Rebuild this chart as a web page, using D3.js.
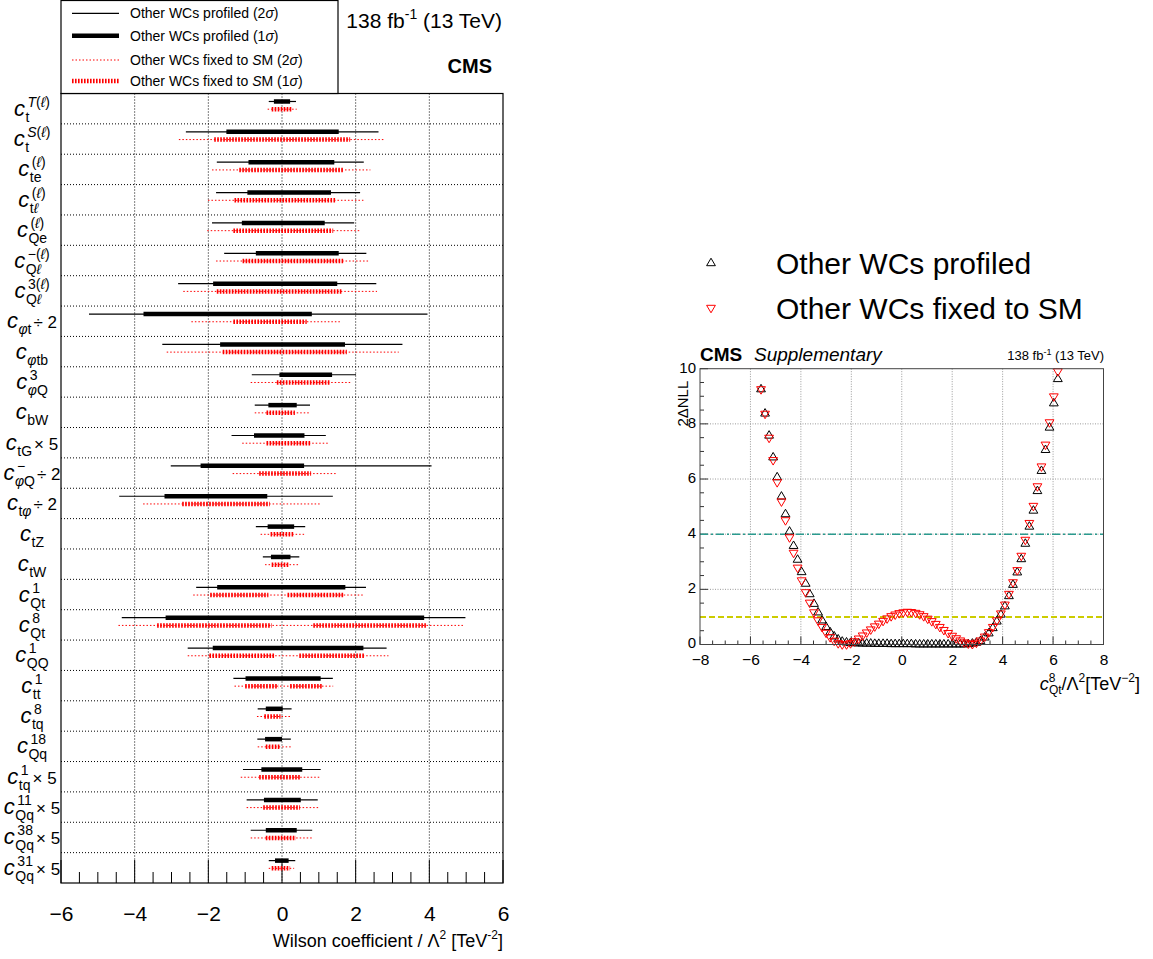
<!DOCTYPE html>
<html><head><meta charset="utf-8">
<script src="https://cdn.jsdelivr.net/npm/d3@7"></script>
<style>
body{margin:0;background:#fff}
svg{display:block}
text{font-family:"Liberation Sans",Arial,Helvetica,sans-serif;fill:#000}
</style>
</head><body>
<svg id="c" width="1153" height="959"></svg>
<script>
// ---------------- DATA ----------------
const labelSub = ["t","t","te","tℓ","Qe","Qℓ","Qℓ","φt","φtb","φQ","bW","tG","φQ","tφ","tZ","tW","Qt","Qt","QQ","tt","tq","Qq","tq","Qq","Qq","Qq"];
const labelSup = ["T(ℓ)","S(ℓ)","(ℓ)","(ℓ)","(ℓ)","−(ℓ)","3(ℓ)","","","3","","","−","","","","1","8","1","1","8","18","1","11","38","31"];
const labelSuffix = ["","","","","","","","÷ 2","","","","× 5","÷ 2","÷ 2","","","","","","","","","× 5","× 5","× 5","× 5"];

const profiled2s = [[-0.36,0.38],[-2.61,2.62],[-1.77,2.22],[-1.79,2.12],[-1.90,1.96],[-1.57,2.29],[-2.82,2.56],[-5.24,3.95],[-3.25,3.27],[-0.82,2.01],[-0.74,0.76],[-1.37,1.19],[-3.02,4.06],[-4.42,1.38],[-0.71,0.63],[-0.52,0.47],[-2.33,2.28],[-4.35,4.98],[-2.56,2.84],[-1.32,1.38],[-0.66,0.26],[-0.67,0.24],[-1.06,1.05],[-0.96,0.97],[-0.85,0.82],[-0.36,0.36]];
const profiled1s = [[-0.22,0.22],[-1.51,1.54],[-0.91,1.42],[-0.94,1.33],[-1.09,1.16],[-0.71,1.54],[-1.87,1.50],[-3.76,0.81],[-1.68,1.71],[-0.07,1.36],[-0.37,0.40],[-0.76,0.61],[-2.21,0.60],[-3.19,-0.40],[-0.39,0.33],[-0.30,0.23],[-1.76,1.72],[-3.16,3.86],[-1.88,2.21],[-0.99,1.05],[-0.44,0.02],[-0.46,0.00],[-0.56,0.55],[-0.49,0.51],[-0.44,0.40],[-0.19,0.18]];
const fixed2s = [[-0.39,0.40],[-2.80,2.77],[-1.90,2.40],[-2.01,2.21],[-2.03,2.10],[-1.79,2.34],[-2.68,2.58],[-2.46,1.57],[-3.13,3.17],[-0.85,1.86],[-0.74,0.74],[-1.08,1.26],[-1.34,1.48],[-3.77,1.03],[-0.58,0.60],[-0.46,0.44],[-2.41,2.21],[-4.44,4.92],[-2.56,2.89],[-1.29,1.39],[-0.68,0.22],[-0.66,0.24],[-1.12,1.03],[-0.96,0.99],[-0.85,0.82],[-0.36,0.33]];
const fixed1s = [[[-0.28,0.29]],[[-1.84,1.85]],[[-1.16,1.66]],[[-1.29,1.47]],[[-1.32,1.39]],[[-1.07,1.66]],[[-1.77,1.62]],[[-1.32,0.67]],[[-1.61,1.76]],[[-0.14,1.29]],[[-0.42,0.35]],[[-0.42,0.79]],[[-0.62,0.79]],[[-2.71,-0.33]],[[-0.31,0.33]],[[-0.28,0.20]],[[-1.95,-0.37],[0.15,1.68]],[[-3.39,-0.28],[0.85,3.91]],[[-1.97,-0.19],[0.47,2.25]],[[-1.00,-0.10],[0.22,1.10]],[[-0.48,-0.04]],[[-0.44,-0.04]],[[-0.62,0.49]],[[-0.51,0.49]],[[-0.44,0.38]],[[-0.28,0.22]]];

const xTicksLeft = [-6,-4,-2,0,2,4,6];
const legendLeft = ["Other WCs profiled (2σ)","Other WCs profiled (1σ)","Other WCs fixed to SM (2σ)","Other WCs fixed to SM (1σ)"];

const scanX = [-5.58,-5.42,-5.26,-5.10,-4.94,-4.77,-4.61,-4.45,-4.29,-4.13,-3.97,-3.81,-3.65,-3.48,-3.32,-3.16,-3.00,-2.84,-2.68,-2.52,-2.36,-2.19,-2.03,-1.87,-1.71,-1.55,-1.39,-1.23,-1.07,-0.91,-0.74,-0.58,-0.42,-0.26,-0.10,0.06,0.22,0.38,0.55,0.71,0.87,1.03,1.19,1.35,1.51,1.67,1.84,2.00,2.16,2.32,2.48,2.64,2.80,2.96,3.12,3.29,3.45,3.61,3.77,3.93,4.09,4.25,4.41,4.58,4.74,4.90,5.06,5.22,5.38,5.54,5.70,5.86,6.03,6.19];
const nllProfiled = [9.26,8.38,7.58,6.79,6.07,5.37,4.73,4.10,3.58,3.08,2.63,2.21,1.83,1.48,1.17,0.88,0.64,0.45,0.30,0.19,0.11,0.08,0.06,0.05,0.05,0.04,0.04,0.04,0.03,0.03,0.03,0.03,0.02,0.02,0.02,0.02,0.02,0.02,0.01,0.01,0.01,0.01,0.01,0.01,0.01,0.01,0.01,0.01,0.01,0.01,0.01,0.02,0.04,0.07,0.13,0.26,0.41,0.60,0.84,1.09,1.39,1.76,2.17,2.62,3.10,3.66,4.28,4.86,5.57,6.30,7.06,7.87,8.75,9.63];
const nllFixed = [9.25,8.36,7.49,6.68,5.88,5.18,4.50,3.88,3.32,2.78,2.32,1.89,1.51,1.16,0.87,0.63,0.42,0.26,0.13,0.04,0.00,0.00,0.04,0.11,0.21,0.32,0.43,0.54,0.65,0.75,0.85,0.94,1.02,1.08,1.13,1.16,1.18,1.17,1.14,1.09,1.02,0.93,0.84,0.74,0.63,0.52,0.41,0.31,0.22,0.14,0.07,0.03,0.01,0.06,0.14,0.28,0.44,0.63,0.87,1.12,1.44,1.83,2.25,2.69,3.21,3.79,4.40,5.02,5.73,6.45,7.24,8.05,8.99,9.90];
const xTicksRight = [-8,-6,-4,-2,0,2,4,6,8];
const yTicksRight = [0,2,4,6,8,10];
const refLevels = [0,1,4];
const legendRight = ["Other WCs profiled","Other WCs fixed to SM"];

// ---------------- DRAW ----------------
const svg = d3.select("#c");
const FONT = '"Liberation Sans",Arial,Helvetica,sans-serif';

function runs(el, str){
  let cur = "", curIt = null;
  const flush = () => { if (cur) el.append("tspan").attr("font-style", curIt ? "italic" : "normal").text(cur); cur=""; };
  for (const ch of str){
    const it = "ℓφTSσ".includes(ch);
    if (curIt !== null && it !== curIt) flush();
    curIt = it; cur += ch;
  }
  flush();
}

// ===== LEFT PANEL =====
const L = {x0:61, x1:503, y0:93.5, y1:883};
const n = labelSub.length;
const xL = d3.scaleLinear().domain([-6,6]).range([L.x0, L.x1]);
const yL = d3.scaleBand().domain(d3.range(n)).range([L.y0, L.y1]);
const rh = yL.bandwidth();

const gGrid = svg.append("g");
gGrid.selectAll("line.v").data(xTicksLeft.slice(1,-1)).join("line")
  .attr("x1", d=>xL(d)).attr("x2", d=>xL(d)).attr("y1", L.y0).attr("y2", L.y1)
  .attr("stroke","#000").attr("stroke-width",1).attr("stroke-dasharray","1,2");
gGrid.selectAll("line.h").data(d3.range(1,n)).join("line")
  .attr("x1", L.x0).attr("x2", L.x1).attr("y1", d=>yL(d)).attr("y2", d=>yL(d))
  .attr("stroke","#000").attr("stroke-width",1).attr("stroke-dasharray","1,2");

const gTk = svg.append("g");
gTk.selectAll("line.mn").data(xL.ticks(24)).join("line")
  .attr("x1", d=>xL(d)).attr("x2", d=>xL(d)).attr("y1", L.y1).attr("y2", d => (Math.abs(d%2)<1e-9) ? L.y1-23 : L.y1-11)
  .attr("stroke","#000").attr("stroke-width",1);

const gI = svg.append("g");
const yBlack = i => yL(i) + rh*0.263;
const yRed = i => yL(i) + rh*0.517;
gI.selectAll("line.p2").data(profiled2s).join("line")
  .attr("x1", d=>xL(d[0])).attr("x2", d=>xL(d[1])).attr("y1",(d,i)=>yBlack(i)).attr("y2",(d,i)=>yBlack(i))
  .attr("stroke","#000").attr("stroke-width",1.2);
gI.selectAll("line.p1").data(profiled1s).join("line")
  .attr("x1", d=>xL(d[0])).attr("x2", d=>xL(d[1])).attr("y1",(d,i)=>yBlack(i)).attr("y2",(d,i)=>yBlack(i))
  .attr("stroke","#000").attr("stroke-width",4.5);
gI.selectAll("line.f2").data(fixed2s).join("line")
  .attr("x1", d=>xL(d[0])).attr("x2", d=>xL(d[1])).attr("y1",(d,i)=>yRed(i)).attr("y2",(d,i)=>yRed(i))
  .attr("stroke","#ff0000").attr("stroke-width",1).attr("stroke-dasharray","1.5,2");
fixed1s.forEach((segs,i)=>{
  gI.append("g").selectAll("line").data(segs).join("line")
    .attr("x1", d=>xL(d[0])).attr("x2", d=>xL(d[1])).attr("y1",yRed(i)).attr("y2",yRed(i))
    .attr("stroke","#ff0000").attr("stroke-width",4.5).attr("stroke-dasharray","1.6,1.4");
});

svg.append("rect").attr("x",L.x0).attr("y",L.y0).attr("width",L.x1-L.x0).attr("height",L.y1-L.y0)
  .attr("fill","none").attr("stroke","#000").attr("stroke-width",1.2);

const axL = d3.axisBottom(xL).tickValues(xTicksLeft).tickSize(0).tickPadding(0);
const gAx = svg.append("g").attr("transform",`translate(0,${L.y1})`).call(axL);
gAx.select(".domain").remove();
gAx.selectAll("text").attr("font-size",21).attr("font-family",FONT).attr("dy",null).attr("y",38);

const xt = svg.append("text").attr("x",L.x1).attr("y",947).attr("text-anchor","end").attr("font-size",18);
xt.append("tspan").text("Wilson coefficient / Λ");
xt.append("tspan").attr("font-size",12).attr("dy",-8).text("2");
xt.append("tspan").attr("dy",8).text(" [TeV");
xt.append("tspan").attr("font-size",12).attr("dy",-8).text("-2");
xt.append("tspan").attr("dy",8).text("]");

// row labels
const O = {main:22, sub:14, suf:17, subDx:0.5, subDy:6, supDx:2.5, supDy:-9, gap:2};
labelSub.forEach((sub,i)=>{
  const g = svg.append("g");
  const c = g.append("text").attr("x",0).attr("y",0).attr("font-size",O.main).attr("font-style","italic").text("c");
  const wc = c.node().getComputedTextLength();
  const st = g.append("text").attr("x",wc+O.subDx).attr("y",O.subDy).attr("font-size",O.sub);
  runs(st, sub);
  let w = wc+O.subDx+st.node().getComputedTextLength();
  const sup = labelSup[i];
  if (sup){
    const pt = g.append("text").attr("x",wc+O.supDx).attr("y",O.supDy).attr("font-size",O.sub);
    runs(pt, sup);
    w = Math.max(w, wc+O.supDx+pt.node().getComputedTextLength());
  }
  let total = w;
  if (labelSuffix[i]){
    const s = g.append("text").attr("x",w+O.gap).attr("y",0).attr("font-size",O.suf).text(labelSuffix[i]);
    total = w+O.gap+s.node().getComputedTextLength();
  }
  g.attr("transform",`translate(${32-total/2},${yL(i)+rh/2+7})`);
});

// legend (left)
svg.append("rect").attr("x",L.x0).attr("y",0.5).attr("width",277).attr("height",L.y0-0.5)
  .attr("fill","#fff").attr("stroke","#000").attr("stroke-width",1.2);
const legY = [13.3,35.7,60,81];
const legStyle = [
  {c:"#000",w:1.2,d:null},{c:"#000",w:4.5,d:null},{c:"#ff0000",w:1,d:"1.5,2"},{c:"#ff0000",w:4.5,d:"1.6,1.4"}];
legendLeft.forEach((t,i)=>{
  svg.append("line").attr("x1",72).attr("x2",119).attr("y1",legY[i]).attr("y2",legY[i])
    .attr("stroke",legStyle[i].c).attr("stroke-width",legStyle[i].w).attr("stroke-dasharray",legStyle[i].d);
  const tx = svg.append("text").attr("x",130).attr("y",legY[i]+5).attr("font-size",14);
  runs(tx, t);
});

const lumi = svg.append("text").attr("x",502).attr("y",28).attr("text-anchor","end").attr("font-size",21);
lumi.append("tspan").text("138 fb");
lumi.append("tspan").attr("font-size",14).attr("dy",-9).text("-1");
lumi.append("tspan").attr("dy",9).text(" (13 TeV)");
svg.append("text").attr("x",492).attr("y",73).attr("text-anchor","end").attr("font-size",20).attr("font-weight","bold").text("CMS");

// ===== RIGHT PANEL =====
const R = {x0:700, x1:1103.5, y0:368.7, y1:644.5};
const xR = d3.scaleLinear().domain([-8,8]).range([R.x0,R.x1]);
const yR = d3.scaleLinear().domain([0,10]).range([R.y1,R.y0]);

const gR = svg.append("g");
gR.selectAll("line.gv").data(xTicksRight.slice(1,-1)).join("line")
  .attr("x1",d=>xR(d)).attr("x2",d=>xR(d)).attr("y1",R.y0).attr("y2",R.y1)
  .attr("stroke","#999").attr("stroke-width",1).attr("stroke-dasharray","1,1.5");
gR.selectAll("line.gh").data(yTicksRight.slice(1,-1)).join("line")
  .attr("x1",R.x0).attr("x2",R.x1).attr("y1",d=>yR(d)).attr("y2",d=>yR(d))
  .attr("stroke","#999").attr("stroke-width",1).attr("stroke-dasharray","1,1.5");

gR.selectAll("line.tx").data(xR.ticks(32)).join("line")
  .attr("x1",d=>xR(d)).attr("x2",d=>xR(d)).attr("y1",R.y1).attr("y2",d=>(Math.abs(d%2)<1e-9)?R.y1-8:R.y1-4)
  .attr("stroke","#333");
gR.selectAll("line.ty").data(yR.ticks(20)).join("line")
  .attr("x1",R.x0).attr("x2",d=>(Math.abs(d%2)<1e-9)?R.x0+8:R.x0+4).attr("y1",d=>yR(d)).attr("y2",d=>yR(d))
  .attr("stroke","#333");

const refStyle = {0:{c:"#2b2bd0",w:1,d:null},1:{c:"#cccc00",w:2,d:"6,3"},4:{c:"#2a9a8e",w:1.6,d:"8,3,2,3"}};
gR.selectAll("line.ref").data(refLevels).join("line")
  .attr("x1",R.x0).attr("x2",R.x1).attr("y1",d=>yR(d)).attr("y2",d=>yR(d))
  .attr("stroke",d=>refStyle[d].c).attr("stroke-width",d=>refStyle[d].w).attr("stroke-dasharray",d=>refStyle[d].d);

const triUp = "M0,-4.8L4.4,2.7L-4.4,2.7Z";
const triDn = "M0,4.8L4.4,-2.7L-4.4,-2.7Z";
gR.selectAll("path.pr").data(scanX).join("path")
  .attr("d",triUp).attr("transform",(d,i)=>`translate(${xR(d)},${yR(nllProfiled[i])})`)
  .attr("fill","none").attr("stroke","#000").attr("stroke-width",1);
gR.selectAll("path.fx").data(scanX).join("path")
  .attr("d",triDn).attr("transform",(d,i)=>`translate(${xR(d)},${yR(nllFixed[i])})`)
  .attr("fill","none").attr("stroke","#ff0000").attr("stroke-width",1);

svg.append("rect").attr("x",R.x0).attr("y",R.y0).attr("width",R.x1-R.x0).attr("height",R.y1-R.y0)
  .attr("fill","none").attr("stroke","#444").attr("stroke-width",1);

const axRx = d3.axisBottom(xR).tickValues(xTicksRight).tickSize(0);
const gRx = svg.append("g").attr("transform",`translate(0,${R.y1})`).call(axRx);
gRx.select(".domain").remove();
gRx.selectAll("text").attr("font-size",15.5).attr("font-family",FONT).attr("dy",null).attr("y",20.5);
const axRy = d3.axisLeft(yR).tickValues(yTicksRight).tickSize(0).tickPadding(4);
const gRy = svg.append("g").attr("transform",`translate(${R.x0},0)`).call(axRy);
gRy.select(".domain").remove();
gRy.selectAll("text").attr("font-size",15).attr("font-family",FONT).attr("dy","0.22em");

svg.append("text").attr("transform",`translate(688,${R.y0+12}) rotate(-90)`).attr("text-anchor","end").attr("font-size",15).text("2ΔNLL");
const rx = svg.append("text").attr("x",1140).attr("y",690).attr("text-anchor","end").attr("font-size",18);
rx.append("tspan").attr("font-style","italic").text("c");
rx.append("tspan").attr("font-size",12).attr("dy",-8).text("8");
rx.append("tspan").attr("font-size",12).attr("dx",-6.5).attr("dy",12).text("Qt");
rx.append("tspan").attr("dy",-4).text("/Λ");
rx.append("tspan").attr("font-size",12).attr("dy",-8).text("2");
rx.append("tspan").attr("dy",8).text("[TeV");
rx.append("tspan").attr("font-size",12).attr("dy",-8).text("−2");
rx.append("tspan").attr("dy",8).text("]");

svg.append("text").attr("x",700).attr("y",361).attr("font-size",19).attr("font-weight","bold").text("CMS");
svg.append("text").attr("x",754).attr("y",361).attr("font-size",19).attr("font-style","italic").text("Supplementary");
const lr = svg.append("text").attr("x",1104).attr("y",360).attr("text-anchor","end").attr("font-size",13);
lr.append("tspan").text("138 fb");
lr.append("tspan").attr("font-size",9).attr("dy",-5).text("-1");
lr.append("tspan").attr("dy",5).text(" (13 TeV)");

const legRY = [263,308];
svg.append("path").attr("d",triUp).attr("transform",`translate(711,${legRY[0]})`).attr("fill","none").attr("stroke","#000");
svg.append("path").attr("d",triDn).attr("transform",`translate(711,${legRY[1]})`).attr("fill","none").attr("stroke","#ff0000");
legendRight.forEach((t,i)=>{
  svg.append("text").attr("x",776).attr("y",legRY[i]+11).attr("font-size",30).text(t);
});
</script>
</body></html>
